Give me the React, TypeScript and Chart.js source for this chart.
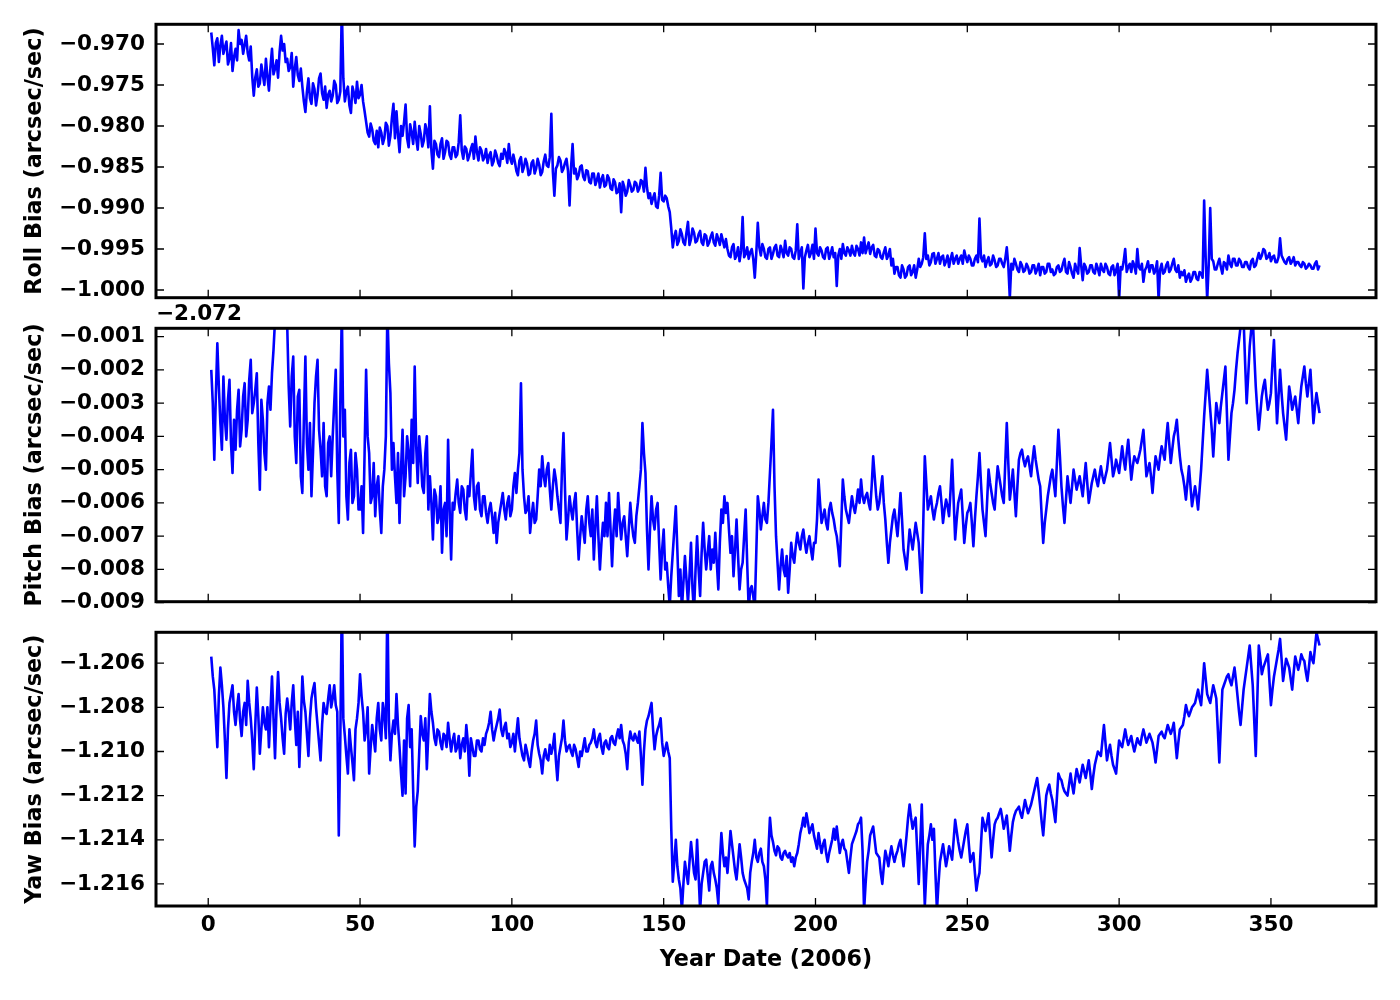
import React, { useEffect, useRef } from 'react';
import { Chart, registerables } from 'chart.js';

Chart.register(...registerables);

// ---------- data (day of year 2006) ----------
// samples at whole days (1..366) and at half days (1.5..365.5)
const DAYS: number[] = Array.from({ length: 366 }, (_, i) => i + 1);

const ROLL: number[] = [
  -0.9686, -0.9726, -0.9693, -0.9702, -0.9712, -0.9697, -0.9718, -0.9733, -0.9706, -0.9683,
  -0.9695, -0.9701, -0.9711, -0.9703, -0.9763, -0.9731, -0.9748, -0.9738, -0.9718, -0.9757,
  -0.9706, -0.9730, -0.9741, -0.9690, -0.9700, -0.9718, -0.9728, -0.9752, -0.9716, -0.9745,
  -0.9752, -0.9783, -0.9742, -0.9773, -0.9755, -0.9762, -0.9736, -0.9768, -0.9778, -0.9757,
  -0.9763, -0.9750, -0.9768, -0.9655, -0.9770, -0.9752, -0.9784, -0.9760, -0.9746, -0.9762,
  -0.9770, -0.9795, -0.9813, -0.9804, -0.9822, -0.9826, -0.9808, -0.9815, -0.9800, -0.9812,
  -0.9773, -0.9782, -0.9832, -0.9812, -0.9774, -0.9826, -0.9808, -0.9795, -0.9829, -0.9810,
  -0.9818, -0.9806, -0.9776, -0.9852, -0.9822, -0.9838, -0.9815, -0.9832, -0.9820, -0.9840,
  -0.9826, -0.9835, -0.9787, -0.9840, -0.9828, -0.9836, -0.9822, -0.9813, -0.9842, -0.9830,
  -0.9838, -0.9845, -0.9832, -0.9843, -0.9836, -0.9849, -0.9840, -0.9833, -0.9822, -0.9846,
  -0.9844, -0.9860, -0.9838, -0.9850, -0.9846, -0.9858, -0.9842, -0.9852, -0.9847, -0.9856,
  -0.9835, -0.9850, -0.9785, -0.9885, -0.9848, -0.9842, -0.9852, -0.9840, -0.9897, -0.9822,
  -0.9852, -0.9860, -0.9848, -0.9866, -0.9855, -0.9870, -0.9858, -0.9866, -0.9875, -0.9860,
  -0.9872, -0.9864, -0.9878, -0.9869, -0.9880, -0.9905, -0.9874, -0.9880, -0.9872, -0.9878,
  -0.9870, -0.9876, -0.9868, -0.9851, -0.9888, -0.9895, -0.9882, -0.9900, -0.9857, -0.9892,
  -0.9888, -0.9905, -0.9948, -0.9928, -0.9940, -0.9932, -0.9945, -0.9917, -0.9938, -0.9930,
  -0.9940, -0.9928, -0.9945, -0.9934, -0.9942, -0.9930, -0.9946, -0.9938, -0.9932, -0.9948,
  -0.9950, -0.9960, -0.9944, -0.9958, -0.9965, -0.9911, -0.9956, -0.9962, -0.9950, -0.9985,
  -0.9918, -0.9958, -0.9950, -0.9962, -0.9948, -0.9956, -0.9945, -0.9960, -0.9952, -0.9940,
  -0.9958, -0.9950, -0.9962, -0.9920, -0.9955, -0.9998, -0.9952, -0.9960, -0.9945, -0.9925,
  -0.9958, -0.9952, -0.9962, -0.9948, -0.9956, -0.9960, -0.9995, -0.9950, -0.9944, -0.9958,
  -0.9952, -0.9946, -0.9958, -0.9950, -0.9942, -0.9936, -0.9948, -0.9956, -0.9945, -0.9960,
  -0.9952, -0.9962, -0.9948, -0.9958, -0.9970, -0.9980, -0.9972, -0.9985, -0.9975, -0.9982,
  -0.9970, -0.9978, -0.9985, -0.9962, -0.9968, -0.9931, -0.9958, -0.9966, -0.9955, -0.9962,
  -0.9968, -0.9958, -0.9965, -0.9972, -0.9955, -0.9962, -0.9968, -0.9958, -0.9952, -0.9966,
  -0.9962, -0.9970, -0.9958, -0.9913, -0.9965, -0.9972, -0.9960, -0.9968, -0.9964, -0.9970,
  -0.9962, -0.9972, -0.9948, -1.0010, -0.9975, -0.9968, -0.9978, -0.9970, -0.9976, -0.9972,
  -0.9978, -0.9970, -0.9975, -0.9982, -0.9972, -0.9978, -0.9968, -0.9975, -0.9980, -0.9970,
  -0.9976, -0.9962, -0.9980, -0.9972, -0.9985, -0.9975, -0.9949, -0.9988, -0.9972, -0.9978,
  -0.9970, -0.9980, -0.9974, -0.9968, -0.9978, -0.9972, -0.9982, -0.9970, -0.9976, -1.0012,
  -0.9975, -0.9950, -0.9972, -0.9978, -0.9970, -0.9950, -0.9975, -0.9990, -0.9972, -0.9978,
  -0.9970, -0.9976, -1.0012, -0.9968, -0.9978, -0.9966, -0.9975, -0.9962, -0.9978, -0.9985,
  -0.9982, -0.9990, -0.9980, -0.9986, -0.9978, -0.9988, -0.9980, -0.9891, -1.0012, -0.9900,
  -0.9965, -0.9975, -0.9962, -0.9980, -0.9968, -0.9958, -0.9972, -0.9962, -0.9970, -0.9965,
  -0.9972, -0.9966, -0.9975, -0.9962, -0.9970, -0.9955, -0.9958, -0.9952, -0.9960, -0.9965,
  -0.9958, -0.9966, -0.9937, -0.9962, -0.9968, -0.9960, -0.9965, -0.9970, -0.9966, -0.9972,
  -0.9968, -0.9972, -0.9970, -0.9974, -0.9965, -0.9970,
];

const ROLL_HALF: number[] = [
  -0.9705, -0.9699, -0.9722, -0.9690, -0.9704, -0.9725, -0.9699, -0.9716, -0.9720, -0.9700,
  -0.9712, -0.9690, -0.9720, -0.9740, -0.9741, -0.9752, -0.9725, -0.9750, -0.9740, -0.9728,
  -0.9737, -0.9720, -0.9710, -0.9708, -0.9722, -0.9733, -0.9711, -0.9730, -0.9738, -0.9730,
  -0.9770, -0.9758, -0.9766, -0.9748, -0.9775, -0.9742, -0.9760, -0.9752, -0.9762, -0.9770,
  -0.9745, -0.9772, -0.9758, -0.9742, -0.9758, -0.9775, -0.9752, -0.9772, -0.9766, -0.9750,
  -0.9782, -0.9808, -0.9797, -0.9818, -0.9806, -0.9802, -0.9822, -0.9796, -0.9824, -0.9790,
  -0.9815, -0.9810, -0.9800, -0.9795, -0.9815, -0.9798, -0.9822, -0.9815, -0.9800, -0.9825,
  -0.9798, -0.9826, -0.9830, -0.9818, -0.9835, -0.9822, -0.9840, -0.9818, -0.9835, -0.9826,
  -0.9838, -0.9820, -0.9830, -0.9825, -0.9842, -0.9828, -0.9840, -0.9832, -0.9826, -0.9842,
  -0.9828, -0.9836, -0.9848, -0.9830, -0.9845, -0.9834, -0.9828, -0.9845, -0.9840, -0.9835,
  -0.9855, -0.9842, -0.9856, -0.9840, -0.9860, -0.9845, -0.9858, -0.9840, -0.9860, -0.9843,
  -0.9848, -0.9838, -0.9855, -0.9852, -0.9838, -0.9856, -0.9845, -0.9855, -0.9850, -0.9858,
  -0.9865, -0.9850, -0.9862, -0.9854, -0.9868, -0.9858, -0.9872, -0.9858, -0.9865, -0.9874,
  -0.9860, -0.9876, -0.9865, -0.9882, -0.9870, -0.9868, -0.9885, -0.9866, -0.9880, -0.9868,
  -0.9880, -0.9866, -0.9880, -0.9875, -0.9882, -0.9888, -0.9898, -0.9885, -0.9890, -0.9885,
  -0.9898, -0.9925, -0.9935, -0.9945, -0.9926, -0.9942, -0.9930, -0.9945, -0.9925, -0.9942,
  -0.9932, -0.9942, -0.9932, -0.9946, -0.9935, -0.9942, -0.9932, -0.9945, -0.9940, -0.9938,
  -0.9958, -0.9948, -0.9962, -0.9948, -0.9952, -0.9960, -0.9948, -0.9954, -0.9962, -0.9955,
  -0.9948, -0.9944, -0.9960, -0.9950, -0.9962, -0.9948, -0.9958, -0.9946, -0.9960, -0.9955,
  -0.9948, -0.9960, -0.9952, -0.9962, -0.9948, -0.9960, -0.9945, -0.9955, -0.9962, -0.9955,
  -0.9948, -0.9960, -0.9950, -0.9962, -0.9948, -0.9955, -0.9958, -0.9962, -0.9955, -0.9948,
  -0.9958, -0.9955, -0.9946, -0.9958, -0.9955, -0.9955, -0.9942, -0.9948, -0.9958, -0.9950,
  -0.9960, -0.9954, -0.9962, -0.9950, -0.9962, -0.9972, -0.9982, -0.9970, -0.9985, -0.9972,
  -0.9982, -0.9970, -0.9975, -0.9972, -0.9960, -0.9962, -0.9970, -0.9956, -0.9968, -0.9955,
  -0.9960, -0.9970, -0.9958, -0.9962, -0.9968, -0.9958, -0.9962, -0.9968, -0.9960, -0.9958,
  -0.9970, -0.9962, -0.9966, -0.9960, -0.9958, -0.9965, -0.9970, -0.9958, -0.9972, -0.9962,
  -0.9968, -0.9962, -0.9970, -0.9968, -0.9962, -0.9975, -0.9966, -0.9978, -0.9968, -0.9980,
  -0.9970, -0.9980, -0.9968, -0.9972, -0.9980, -0.9968, -0.9978, -0.9982, -0.9972, -0.9978,
  -0.9968, -0.9978, -0.9966, -0.9980, -0.9968, -0.9980, -0.9970, -0.9968, -0.9980, -0.9970,
  -0.9978, -0.9968, -0.9982, -0.9975, -0.9968, -0.9980, -0.9972, -0.9982, -0.9968, -0.9972,
  -0.9965, -0.9978, -0.9968, -0.9965, -0.9980, -0.9972, -0.9968, -0.9976, -0.9965, -0.9970,
  -0.9980, -0.9965, -0.9975, -0.9980, -0.9970, -0.9978, -0.9968, -0.9975, -0.9970, -0.9978,
  -0.9976, -0.9984, -0.9990, -0.9978, -0.9986, -0.9978, -0.9985, -0.9960, -0.9970, -0.9962,
  -0.9975, -0.9968, -0.9972, -0.9966, -0.9975, -0.9968, -0.9962, -0.9970, -0.9962, -0.9972,
  -0.9966, -0.9972, -0.9965, -0.9972, -0.9962, -0.9962, -0.9950, -0.9962, -0.9955, -0.9960,
  -0.9966, -0.9960, -0.9958, -0.9966, -0.9962, -0.9968, -0.9960, -0.9966, -0.9970, -0.9966,
  -0.9974, -0.9968, -0.9974, -0.9968, -0.9975,
];

// pitch values as shown on the axis (relative to the -2.072 offset)
const PITCH: number[] = [
  -0.0020, -0.0047, -0.0012, -0.0036, -0.0022, -0.0041, -0.0023, -0.0051, -0.0044, -0.0026,
  -0.0038, -0.0024, -0.0035, -0.0017, -0.0030, -0.0021, -0.0056, -0.0035, -0.0050, -0.0025,
  -0.0021, -0.0005, -0.0006, -0.0004, -0.0003, -0.0006, -0.0037, -0.0016, -0.0048, -0.0026,
  -0.0057, -0.0016, -0.0050, -0.0058, -0.0030, -0.0017, -0.0044, -0.0036, -0.0058, -0.0040,
  -0.0040, -0.0020, -0.0066, -0.0002, -0.0032, -0.0065, -0.0044, -0.0058, -0.0050, -0.0062,
  -0.0069, -0.0020, -0.0045, -0.0058, -0.0064, -0.0052, -0.0069, -0.0050, -0.0002, -0.0027,
  -0.0042, -0.0060, -0.0066, -0.0038, -0.0052, -0.0045, -0.0035, -0.0019, -0.0054, -0.0046,
  -0.0057, -0.0040, -0.0052, -0.0071, -0.0058, -0.0064, -0.0075, -0.0060, -0.0041, -0.0077,
  -0.0062, -0.0053, -0.0063, -0.0056, -0.0065, -0.0058, -0.0044, -0.0062, -0.0054, -0.0064,
  -0.0058, -0.0066, -0.0060, -0.0069, -0.0072, -0.0063, -0.0057, -0.0065, -0.0058, -0.0062,
  -0.0051, -0.0050, -0.0024, -0.0058, -0.0062, -0.0069, -0.0060, -0.0065, -0.0050, -0.0046,
  -0.0055, -0.0048, -0.0062, -0.0050, -0.0058, -0.0066, -0.0039, -0.0071, -0.0058, -0.0065,
  -0.0057, -0.0077, -0.0064, -0.0072, -0.0058, -0.0070, -0.0077, -0.0058, -0.0080, -0.0066,
  -0.0060, -0.0057, -0.0079, -0.0062, -0.0057, -0.0071, -0.0064, -0.0076, -0.0060, -0.0070,
  -0.0064, -0.0055, -0.0036, -0.0051, -0.0080, -0.0058, -0.0068, -0.0060, -0.0083, -0.0068,
  -0.0078, -0.0091, -0.0075, -0.0061, -0.0088, -0.0092, -0.0076, -0.0090, -0.0072, -0.0093,
  -0.0070, -0.0088, -0.0066, -0.0080, -0.0070, -0.0074, -0.0069, -0.0086, -0.0062, -0.0058,
  -0.0060, -0.0075, -0.0082, -0.0065, -0.0086, -0.0078, -0.0062, -0.0092, -0.0085, -0.0092,
  -0.0058, -0.0068, -0.0060, -0.0066, -0.0051, -0.0032, -0.0070, -0.0086, -0.0074, -0.0082,
  -0.0087, -0.0072, -0.0078, -0.0069, -0.0074, -0.0068, -0.0075, -0.0070, -0.0077, -0.0072,
  -0.0053, -0.0066, -0.0062, -0.0068, -0.0060, -0.0065, -0.0070, -0.0079, -0.0053, -0.0062,
  -0.0066, -0.0058, -0.0063, -0.0056, -0.0053, -0.0060, -0.0057, -0.0062, -0.0046, -0.0058,
  -0.0060, -0.0052, -0.0065, -0.0078, -0.0068, -0.0062, -0.0070, -0.0057, -0.0074, -0.0080,
  -0.0068, -0.0074, -0.0066, -0.0072, -0.0087, -0.0046, -0.0062, -0.0058, -0.0065, -0.0060,
  -0.0055, -0.0066, -0.0059, -0.0064, -0.0047, -0.0071, -0.0060, -0.0056, -0.0072, -0.0063,
  -0.0060, -0.0073, -0.0058, -0.0045, -0.0062, -0.0070, -0.0050, -0.0057, -0.0062, -0.0049,
  -0.0055, -0.0060, -0.0036, -0.0059, -0.0050, -0.0064, -0.0047, -0.0044, -0.0049, -0.0046,
  -0.0052, -0.0043, -0.0050, -0.0055, -0.0072, -0.0062, -0.0055, -0.0050, -0.0058, -0.0038,
  -0.0055, -0.0066, -0.0052, -0.0060, -0.0050, -0.0056, -0.0052, -0.0058, -0.0048, -0.0060,
  -0.0054, -0.0050, -0.0055, -0.0049, -0.0054, -0.0050, -0.0042, -0.0052, -0.0047, -0.0051,
  -0.0043, -0.0050, -0.0041, -0.0053, -0.0046, -0.0048, -0.0044, -0.0038, -0.0052, -0.0048,
  -0.0057, -0.0046, -0.0050, -0.0043, -0.0047, -0.0036, -0.0048, -0.0040, -0.0035, -0.0046,
  -0.0052, -0.0059, -0.0049, -0.0061, -0.0055, -0.0062, -0.0050, -0.0034, -0.0020, -0.0032,
  -0.0046, -0.0030, -0.0036, -0.0027, -0.0019, -0.0047, -0.0033, -0.0026, -0.0015, -0.0007,
  -0.0005, -0.0030, -0.0013, -0.0004, -0.0025, -0.0038, -0.0028, -0.0023, -0.0032, -0.0027,
  -0.0011, -0.0036, -0.0020, -0.0033, -0.0041, -0.0025, -0.0032, -0.0028, -0.0036, -0.0025,
  -0.0019, -0.0028, -0.0020, -0.0036, -0.0027, -0.0033,
];

const PITCH_HALF: number[] = [
  -0.0030, -0.0028, -0.0025, -0.0044, -0.0035, -0.0029, -0.0042, -0.0035, -0.0032, -0.0043,
  -0.0028, -0.0040, -0.0023, -0.0033, -0.0026, -0.0042, -0.0029, -0.0045, -0.0030, -0.0032,
  -0.0014, -0.0007, -0.0004, -0.0005, -0.0004, -0.0025, -0.0022, -0.0040, -0.0028, -0.0052,
  -0.0035, -0.0042, -0.0036, -0.0045, -0.0022, -0.0038, -0.0052, -0.0055, -0.0042, -0.0052,
  -0.0030, -0.0050, -0.0030, -0.0040, -0.0058, -0.0048, -0.0060, -0.0045, -0.0062, -0.0055,
  -0.0045, -0.0040, -0.0060, -0.0048, -0.0055, -0.0062, -0.0055, -0.0040, -0.0018, -0.0050,
  -0.0052, -0.0045, -0.0050, -0.0058, -0.0040, -0.0055, -0.0048, -0.0043, -0.0040, -0.0055,
  -0.0045, -0.0062, -0.0060, -0.0056, -0.0066, -0.0055, -0.0062, -0.0070, -0.0062, -0.0060,
  -0.0057, -0.0060, -0.0055, -0.0062, -0.0055, -0.0051, -0.0058, -0.0055, -0.0062, -0.0058,
  -0.0063, -0.0062, -0.0064, -0.0063, -0.0066, -0.0060, -0.0062, -0.0060, -0.0064, -0.0055,
  -0.0057, -0.0045, -0.0050, -0.0063, -0.0058, -0.0064, -0.0066, -0.0058, -0.0055, -0.0052,
  -0.0050, -0.0056, -0.0055, -0.0053, -0.0062, -0.0050, -0.0056, -0.0065, -0.0062, -0.0060,
  -0.0068, -0.0070, -0.0068, -0.0062, -0.0066, -0.0062, -0.0067, -0.0070, -0.0072, -0.0070,
  -0.0070, -0.0068, -0.0068, -0.0070, -0.0065, -0.0066, -0.0070, -0.0068, -0.0066, -0.0072,
  -0.0060, -0.0050, -0.0045, -0.0068, -0.0068, -0.0065, -0.0062, -0.0072, -0.0074, -0.0080,
  -0.0085, -0.0082, -0.0068, -0.0074, -0.0080, -0.0084, -0.0083, -0.0082, -0.0086, -0.0080,
  -0.0080, -0.0075, -0.0074, -0.0075, -0.0080, -0.0078, -0.0078, -0.0072, -0.0066, -0.0063,
  -0.0068, -0.0070, -0.0074, -0.0076, -0.0080, -0.0070, -0.0078, -0.0086, -0.0088, -0.0075,
  -0.0062, -0.0064, -0.0065, -0.0060, -0.0042, -0.0055, -0.0078, -0.0079, -0.0080, -0.0076,
  -0.0080, -0.0076, -0.0073, -0.0072, -0.0070, -0.0072, -0.0072, -0.0074, -0.0072, -0.0065,
  -0.0060, -0.0064, -0.0066, -0.0062, -0.0063, -0.0068, -0.0074, -0.0066, -0.0058, -0.0064,
  -0.0062, -0.0061, -0.0060, -0.0060, -0.0058, -0.0058, -0.0060, -0.0055, -0.0052, -0.0062,
  -0.0056, -0.0060, -0.0072, -0.0072, -0.0064, -0.0066, -0.0064, -0.0065, -0.0077, -0.0074,
  -0.0071, -0.0070, -0.0069, -0.0080, -0.0066, -0.0054, -0.0060, -0.0062, -0.0062, -0.0057,
  -0.0060, -0.0062, -0.0061, -0.0056, -0.0059, -0.0065, -0.0058, -0.0064, -0.0067, -0.0062,
  -0.0066, -0.0065, -0.0052, -0.0054, -0.0066, -0.0060, -0.0054, -0.0060, -0.0055, -0.0052,
  -0.0058, -0.0048, -0.0048, -0.0055, -0.0057, -0.0055, -0.0045, -0.0047, -0.0047, -0.0049,
  -0.0047, -0.0047, -0.0053, -0.0064, -0.0066, -0.0058, -0.0052, -0.0054, -0.0048, -0.0046,
  -0.0061, -0.0059, -0.0056, -0.0055, -0.0053, -0.0054, -0.0055, -0.0053, -0.0054, -0.0057,
  -0.0052, -0.0053, -0.0052, -0.0052, -0.0052, -0.0046, -0.0047, -0.0050, -0.0049, -0.0047,
  -0.0047, -0.0045, -0.0047, -0.0049, -0.0047, -0.0046, -0.0041, -0.0045, -0.0050, -0.0052,
  -0.0051, -0.0048, -0.0046, -0.0045, -0.0041, -0.0042, -0.0044, -0.0038, -0.0041, -0.0050,
  -0.0055, -0.0054, -0.0055, -0.0058, -0.0058, -0.0056, -0.0042, -0.0027, -0.0026, -0.0038,
  -0.0038, -0.0033, -0.0031, -0.0023, -0.0033, -0.0040, -0.0030, -0.0020, -0.0011, -0.0006,
  -0.0018, -0.0022, -0.0008, -0.0015, -0.0032, -0.0033, -0.0025, -0.0028, -0.0030, -0.0018,
  -0.0024, -0.0028, -0.0027, -0.0037, -0.0033, -0.0028, -0.0030, -0.0032, -0.0030, -0.0022,
  -0.0024, -0.0024, -0.0028, -0.0031, -0.0030,
];

const YAW: number[] = [
  -1.2057, -1.2072, -1.2098, -1.2062, -1.2080, -1.2112, -1.2078, -1.2070, -1.2088, -1.2074,
  -1.2093, -1.2078, -1.2068, -1.2085, -1.2108, -1.2071, -1.2101, -1.2080, -1.2090, -1.2098,
  -1.2066, -1.2103, -1.2064, -1.2085, -1.2101, -1.2076, -1.2090, -1.2070, -1.2097, -1.2107,
  -1.2066, -1.2082, -1.2102, -1.2076, -1.2069, -1.2088, -1.2104, -1.2078, -1.2083, -1.2070,
  -1.2076, -1.2079, -1.2138, -1.2030, -1.2093, -1.2110, -1.2098, -1.2113, -1.2085, -1.2065,
  -1.2082, -1.2090, -1.2110, -1.2088, -1.2100, -1.2078, -1.2095, -1.2083, -1.2030, -1.2104,
  -1.2086, -1.2074, -1.2098, -1.2120, -1.2119, -1.2079, -1.2090, -1.2143, -1.2118, -1.2084,
  -1.2095, -1.2108, -1.2074, -1.2087, -1.2097, -1.2091, -1.2099, -1.2093, -1.2087, -1.2100,
  -1.2092, -1.2098, -1.2103, -1.2094, -1.2088, -1.2111, -1.2098, -1.2102, -1.2095, -1.2100,
  -1.2097, -1.2090, -1.2082, -1.2095, -1.2088, -1.2081, -1.2093, -1.2087, -1.2092, -1.2096,
  -1.2100, -1.2085, -1.2098, -1.2104, -1.2100, -1.2107, -1.2095, -1.2086, -1.2101, -1.2110,
  -1.2099, -1.2104, -1.2101, -1.2092, -1.2113, -1.2098, -1.2086, -1.2100, -1.2097, -1.2102,
  -1.2099, -1.2107, -1.2102, -1.2094, -1.2100, -1.2096, -1.2090, -1.2098, -1.2092, -1.2101,
  -1.2095, -1.2099, -1.2093, -1.2097, -1.2090, -1.2088, -1.2097, -1.2108, -1.2091, -1.2095,
  -1.2094, -1.2091, -1.2115, -1.2090, -1.2084, -1.2078, -1.2099, -1.2090, -1.2085, -1.2102,
  -1.2096, -1.2103, -1.2159, -1.2140, -1.2158, -1.2172, -1.2150, -1.2160, -1.2141, -1.2155,
  -1.2140, -1.2172, -1.2155, -1.2149, -1.2163, -1.2150, -1.2158, -1.2169, -1.2137, -1.2152,
  -1.2155, -1.2136, -1.2148, -1.2158, -1.2142, -1.2155, -1.2160, -1.2167, -1.2150, -1.2140,
  -1.2150, -1.2144, -1.2152, -1.2170, -1.2130, -1.2141, -1.2147, -1.2144, -1.2149, -1.2145,
  -1.2148, -1.2150, -1.2152, -1.2146, -1.2137, -1.2130, -1.2128, -1.2137, -1.2133, -1.2141,
  -1.2137, -1.2146, -1.2140, -1.2150, -1.2143, -1.2135, -1.2134, -1.2146, -1.2140, -1.2145,
  -1.2155, -1.2142, -1.2138, -1.2133, -1.2130, -1.2172, -1.2150, -1.2138, -1.2134, -1.2146,
  -1.2148, -1.2160, -1.2145, -1.2152, -1.2143, -1.2150, -1.2145, -1.2140, -1.2152, -1.2138,
  -1.2124, -1.2135, -1.2130, -1.2160, -1.2124, -1.2170, -1.2142, -1.2133, -1.2135, -1.2172,
  -1.2150, -1.2142, -1.2152, -1.2143, -1.2149, -1.2131, -1.2141, -1.2148, -1.2140, -1.2133,
  -1.2150, -1.2146, -1.2163, -1.2155, -1.2130, -1.2136, -1.2128, -1.2148, -1.2133, -1.2130,
  -1.2126, -1.2135, -1.2129, -1.2145, -1.2132, -1.2127, -1.2125, -1.2130, -1.2122, -1.2128,
  -1.2124, -1.2118, -1.2112, -1.2125, -1.2138, -1.2120, -1.2115, -1.2122, -1.2132, -1.2110,
  -1.2113, -1.2118, -1.2120, -1.2110, -1.2119, -1.2108, -1.2114, -1.2106, -1.2112, -1.2104,
  -1.2117, -1.2106, -1.2100, -1.2102, -1.2088, -1.2104, -1.2097, -1.2106, -1.2110, -1.2095,
  -1.2098, -1.2090, -1.2097, -1.2093, -1.2100, -1.2094, -1.2097, -1.2090, -1.2096, -1.2092,
  -1.2096, -1.2105, -1.2093, -1.2091, -1.2094, -1.2088, -1.2092, -1.2087, -1.2103, -1.2090,
  -1.2088, -1.2079, -1.2084, -1.2080, -1.2078, -1.2072, -1.2079, -1.2060, -1.2074, -1.2078,
  -1.2070, -1.2076, -1.2105, -1.2072, -1.2068, -1.2065, -1.2070, -1.2062, -1.2075, -1.2088,
  -1.2072, -1.2062, -1.2052, -1.2070, -1.2102, -1.2052, -1.2065, -1.2060, -1.2056, -1.2079,
  -1.2066, -1.2058, -1.2049, -1.2068, -1.2058, -1.2062, -1.2072, -1.2057, -1.2063, -1.2056,
  -1.2059, -1.2068, -1.2055, -1.2060, -1.2046, -1.2052,
];

const YAW_HALF: number[] = [
  -1.2066, -1.2085, -1.2075, -1.2070, -1.2095, -1.2090, -1.2074, -1.2082, -1.2080, -1.2086,
  -1.2082, -1.2088, -1.2078, -1.2095, -1.2088, -1.2084, -1.2090, -1.2087, -1.2080, -1.2082,
  -1.2085, -1.2080, -1.2078, -1.2094, -1.2083, -1.2082, -1.2078, -1.2085, -1.2082, -1.2088,
  -1.2077, -1.2092, -1.2085, -1.2072, -1.2080, -1.2096, -1.2088, -1.2082, -1.2076, -1.2080,
  -1.2070, -1.2082, -1.2095, -1.2085, -1.2102, -1.2090, -1.2105, -1.2090, -1.2078, -1.2075,
  -1.2095, -1.2080, -1.2098, -1.2094, -1.2085, -1.2090, -1.2078, -1.2094, -1.2086, -1.2092,
  -1.2092, -1.2088, -1.2110, -1.2095, -1.2085, -1.2098, -1.2118, -1.2125, -1.2100, -1.2092,
  -1.2085, -1.2092, -1.2082, -1.2094, -1.2090, -1.2096, -1.2092, -1.2098, -1.2094, -1.2095,
  -1.2100, -1.2093, -1.2097, -1.2100, -1.2096, -1.2094, -1.2102, -1.2095, -1.2099, -1.2094,
  -1.2092, -1.2087, -1.2090, -1.2091, -1.2085, -1.2090, -1.2089, -1.2094, -1.2098, -1.2092,
  -1.2092, -1.2094, -1.2102, -1.2097, -1.2104, -1.2100, -1.2092, -1.2097, -1.2104, -1.2102,
  -1.2103, -1.2097, -1.2098, -1.2104, -1.2102, -1.2094, -1.2095, -1.2098, -1.2100, -1.2097,
  -1.2103, -1.2100, -1.2098, -1.2100, -1.2097, -1.2094, -1.2096, -1.2094, -1.2098, -1.2096,
  -1.2098, -1.2094, -1.2096, -1.2093, -1.2094, -1.2095, -1.2101, -1.2096, -1.2094, -1.2092,
  -1.2096, -1.2102, -1.2100, -1.2086, -1.2081, -1.2090, -1.2093, -1.2088, -1.2096, -1.2099,
  -1.2100, -1.2135, -1.2150, -1.2152, -1.2162, -1.2160, -1.2155, -1.2150, -1.2148, -1.2158,
  -1.2156, -1.2160, -1.2150, -1.2156, -1.2152, -1.2155, -1.2162, -1.2150, -1.2146, -1.2148,
  -1.2146, -1.2142, -1.2154, -1.2150, -1.2148, -1.2158, -1.2162, -1.2155, -1.2146, -1.2148,
  -1.2146, -1.2150, -1.2158, -1.2145, -1.2138, -1.2145, -1.2143, -1.2148, -1.2146, -1.2147,
  -1.2146, -1.2148, -1.2148, -1.2142, -1.2134, -1.2134, -1.2132, -1.2135, -1.2138, -1.2144,
  -1.2142, -1.2142, -1.2146, -1.2146, -1.2140, -1.2140, -1.2140, -1.2142, -1.2144, -1.2150,
  -1.2148, -1.2140, -1.2136, -1.2132, -1.2145, -1.2160, -1.2145, -1.2136, -1.2140, -1.2147,
  -1.2155, -1.2152, -1.2148, -1.2147, -1.2147, -1.2147, -1.2142, -1.2146, -1.2145, -1.2130,
  -1.2130, -1.2132, -1.2145, -1.2142, -1.2148, -1.2155, -1.2138, -1.2140, -1.2155, -1.2160,
  -1.2146, -1.2147, -1.2148, -1.2146, -1.2140, -1.2136, -1.2145, -1.2144, -1.2136, -1.2142,
  -1.2148, -1.2155, -1.2158, -1.2142, -1.2133, -1.2132, -1.2138, -1.2140, -1.2131, -1.2128,
  -1.2130, -1.2132, -1.2137, -1.2138, -1.2129, -1.2126, -1.2128, -1.2126, -1.2125, -1.2126,
  -1.2121, -1.2115, -1.2118, -1.2132, -1.2129, -1.2117, -1.2119, -1.2127, -1.2121, -1.2112,
  -1.2116, -1.2119, -1.2115, -1.2115, -1.2113, -1.2111, -1.2110, -1.2109, -1.2108, -1.2110,
  -1.2111, -1.2103, -1.2101, -1.2095, -1.2096, -1.2100, -1.2102, -1.2108, -1.2102, -1.2097,
  -1.2094, -1.2094, -1.2095, -1.2097, -1.2097, -1.2096, -1.2093, -1.2093, -1.2094, -1.2094,
  -1.2100, -1.2099, -1.2092, -1.2093, -1.2091, -1.2090, -1.2090, -1.2095, -1.2096, -1.2089,
  -1.2084, -1.2082, -1.2082, -1.2079, -1.2075, -1.2076, -1.2070, -1.2067, -1.2076, -1.2074,
  -1.2073, -1.2090, -1.2088, -1.2070, -1.2066, -1.2068, -1.2066, -1.2068, -1.2082, -1.2080,
  -1.2067, -1.2057, -1.2061, -1.2086, -1.2077, -1.2058, -1.2062, -1.2058, -1.2068, -1.2072,
  -1.2062, -1.2054, -1.2058, -1.2063, -1.2060, -1.2067, -1.2064, -1.2060, -1.2060, -1.2058,
  -1.2064, -1.2062, -1.2058, -1.2053, -1.2049,
];

const X_TICKS: number[] = [0, 50, 100, 150, 200, 250, 300, 350];
const ROLL_TICKS: number[] = [-1.0, -0.995, -0.99, -0.985, -0.98, -0.975, -0.97];
const PITCH_TICKS: number[] = [-0.009, -0.008, -0.007, -0.006, -0.005, -0.004, -0.003, -0.002, -0.001];
const YAW_TICKS: number[] = [-1.216, -1.214, -1.212, -1.21, -1.208, -1.206];
const PITCH_OFFSET_TEXT = '\u22122.072';

const X_LABEL = 'Year Date (2006)';
const ROLL_LABEL = 'Roll Bias (arcsec/sec)';
const PITCH_LABEL = 'Pitch Bias (arcsec/sec)';
const YAW_LABEL = 'Yaw Bias (arcsec/sec)';

// ---------- styling ----------
const FAMILY = '"DejaVu Sans", sans-serif';
const TICK_FONT = { family: FAMILY, size: 21.5, weight: 'bold' as const, lineHeight: 1.2 };
const TITLE_FONT = { family: FAMILY, size: 22.3, weight: 'bold' as const, lineHeight: 1.2 };
const LINE_COLOR = '#0000ff';
const PLOT_LEFT = 156;
const RIGHT_PAD = 24;

const fmt3 = (v: number) => {
  const s = Number(v).toFixed(3);
  return s.startsWith('-') ? '\u2212' + s.slice(1) : s;
};

function buildPoints(whole: number[], half: number[]) {
  const pts: { x: number; y: number }[] = [];
  DAYS.forEach((d, i) => {
    pts.push({ x: d, y: whole[i] });
    if (i < half.length) pts.push({ x: d + 0.5, y: half[i] });
  });
  return pts;
}

const framePlugin = {
  id: 'mplFrame',
  afterDatasetsDraw(chart: any, _args: any, opts: any) {
    const { ctx, chartArea: a } = chart;
    const xs = chart.scales.x;
    const ys = chart.scales.y;
    const L = 8;
    ctx.save();
    ctx.strokeStyle = '#000';
    ctx.lineWidth = 1.3;
    ctx.beginPath();
    for (const v of X_TICKS) {
      const p = xs.getPixelForValue(v);
      ctx.moveTo(p, a.top);
      ctx.lineTo(p, a.top + L);
      ctx.moveTo(p, a.bottom);
      ctx.lineTo(p, a.bottom - L);
    }
    for (const v of opts.yTicks as number[]) {
      const p = ys.getPixelForValue(v);
      ctx.moveTo(a.left, p);
      ctx.lineTo(a.left + L, p);
      ctx.moveTo(a.right, p);
      ctx.lineTo(a.right - L, p);
    }
    ctx.stroke();
    ctx.lineWidth = 3;
    ctx.strokeRect(a.left, a.top, a.right - a.left, a.bottom - a.top);
    if (opts.offsetText) {
      ctx.font = `bold ${TICK_FONT.size}px ${FAMILY}`;
      ctx.fillStyle = '#000';
      ctx.textAlign = 'left';
      ctx.textBaseline = 'alphabetic';
      ctx.fillText(opts.offsetText, a.left, a.top - 8);
    }
    ctx.restore();
  },
};

type PanelCfg = {
  values: number[];
  half: number[];
  yMin: number;
  yMax: number;
  yTicks: number[];
  yLabel: string;
  padTop: number;
  padBottom: number;
  showX: boolean;
  xHeight: number;
  offsetText?: string;
};

function makeChart(canvas: HTMLCanvasElement, c: PanelCfg) {
  return new Chart(canvas, {
    type: 'line',
    data: {
      datasets: [
        {
          data: buildPoints(c.values, c.half),
          borderColor: LINE_COLOR,
          borderWidth: 2.6,
          pointRadius: 0,
          tension: 0,
          fill: false,
          borderJoinStyle: 'round',
        },
      ],
    },
    options: {
      responsive: false,
      animation: false,
      devicePixelRatio: 1,
      layout: { padding: { left: 0, right: RIGHT_PAD, top: c.padTop, bottom: c.padBottom } },
      plugins: {
        legend: { display: false },
        tooltip: { enabled: false },
        mplFrame: { yTicks: c.yTicks, offsetText: c.offsetText },
      } as any,
      scales: {
        x: {
          type: 'linear',
          min: -17.2,
          max: 384.6,
          grid: { display: false, drawTicks: false },
          border: { display: false },
          ticks: {
            display: c.showX,
            font: TICK_FONT,
            color: '#000',
            padding: 7,
            maxRotation: 0,
            autoSkip: false,
            callback: (v: any) => String(v),
          },
          afterBuildTicks: (s: any) => {
            s.ticks = X_TICKS.map((v) => ({ value: v }));
          },
          afterFit: (s: any) => {
            s.height = c.xHeight;
          },
          title: {
            display: c.showX,
            text: X_LABEL,
            font: TITLE_FONT,
            color: '#000',
            padding: { top: 0, bottom: 26 },
          },
        },
        y: {
          type: 'linear',
          min: c.yMin,
          max: c.yMax,
          grid: { display: false, drawTicks: false },
          border: { display: false },
          ticks: {
            font: TICK_FONT,
            color: '#000',
            padding: 11,
            autoSkip: false,
            callback: (v: any) => fmt3(v),
          },
          afterBuildTicks: (s: any) => {
            s.ticks = c.yTicks.map((v) => ({ value: v }));
          },
          afterFit: (s: any) => {
            s.width = PLOT_LEFT;
          },
          title: {
            display: true,
            text: c.yLabel,
            font: TITLE_FONT,
            color: '#000',
            padding: { top: 22, bottom: 0 },
          },
        },
      },
    } as any,
    plugins: [framePlugin],
  });
}

const PANELS: { top: number; height: number; cfg: PanelCfg }[] = [
  {
    top: 0,
    height: 330,
    cfg: {
      values: ROLL, half: ROLL_HALF, yMin: -1.00094, yMax: -0.9676, yTicks: ROLL_TICKS, yLabel: ROLL_LABEL,
      padTop: 24.3, padBottom: 32.3, showX: false, xHeight: 0,
    },
  },
  {
    top: 290,
    height: 340,
    cfg: {
      values: PITCH, half: PITCH_HALF, yMin: -0.00897, yMax: -0.00075, yTicks: PITCH_TICKS, yLabel: PITCH_LABEL,
      padTop: 38.3, padBottom: 28.3, showX: false, xHeight: 0, offsetText: PITCH_OFFSET_TEXT,
    },
  },
  {
    top: 600,
    height: 400,
    cfg: {
      values: YAW, half: YAW_HALF, yMin: -1.217, yMax: -1.2046, yTicks: YAW_TICKS, yLabel: YAW_LABEL,
      padTop: 32.3, padBottom: 0, showX: true, xHeight: 94,
    },
  },
];

export default function App() {
  const r0 = useRef<HTMLCanvasElement>(null);
  const r1 = useRef<HTMLCanvasElement>(null);
  const r2 = useRef<HTMLCanvasElement>(null);
  const refs = [r0, r1, r2];

  useEffect(() => {
    const charts = PANELS.map((p, i) => makeChart(refs[i].current as HTMLCanvasElement, p.cfg));
    return () => charts.forEach((ch) => ch.destroy());
  }, []);

  return (
    <div style={{ position: 'absolute', left: 0, top: 0, width: 1400, height: 1000, background: '#fff' }}>
      {PANELS.map((p, i) => (
        <canvas
          key={i}
          ref={refs[i]}
          width={1400}
          height={p.height}
          style={{ position: 'absolute', left: 0, top: p.top, width: 1400, height: p.height }}
        />
      ))}
    </div>
  );
}
